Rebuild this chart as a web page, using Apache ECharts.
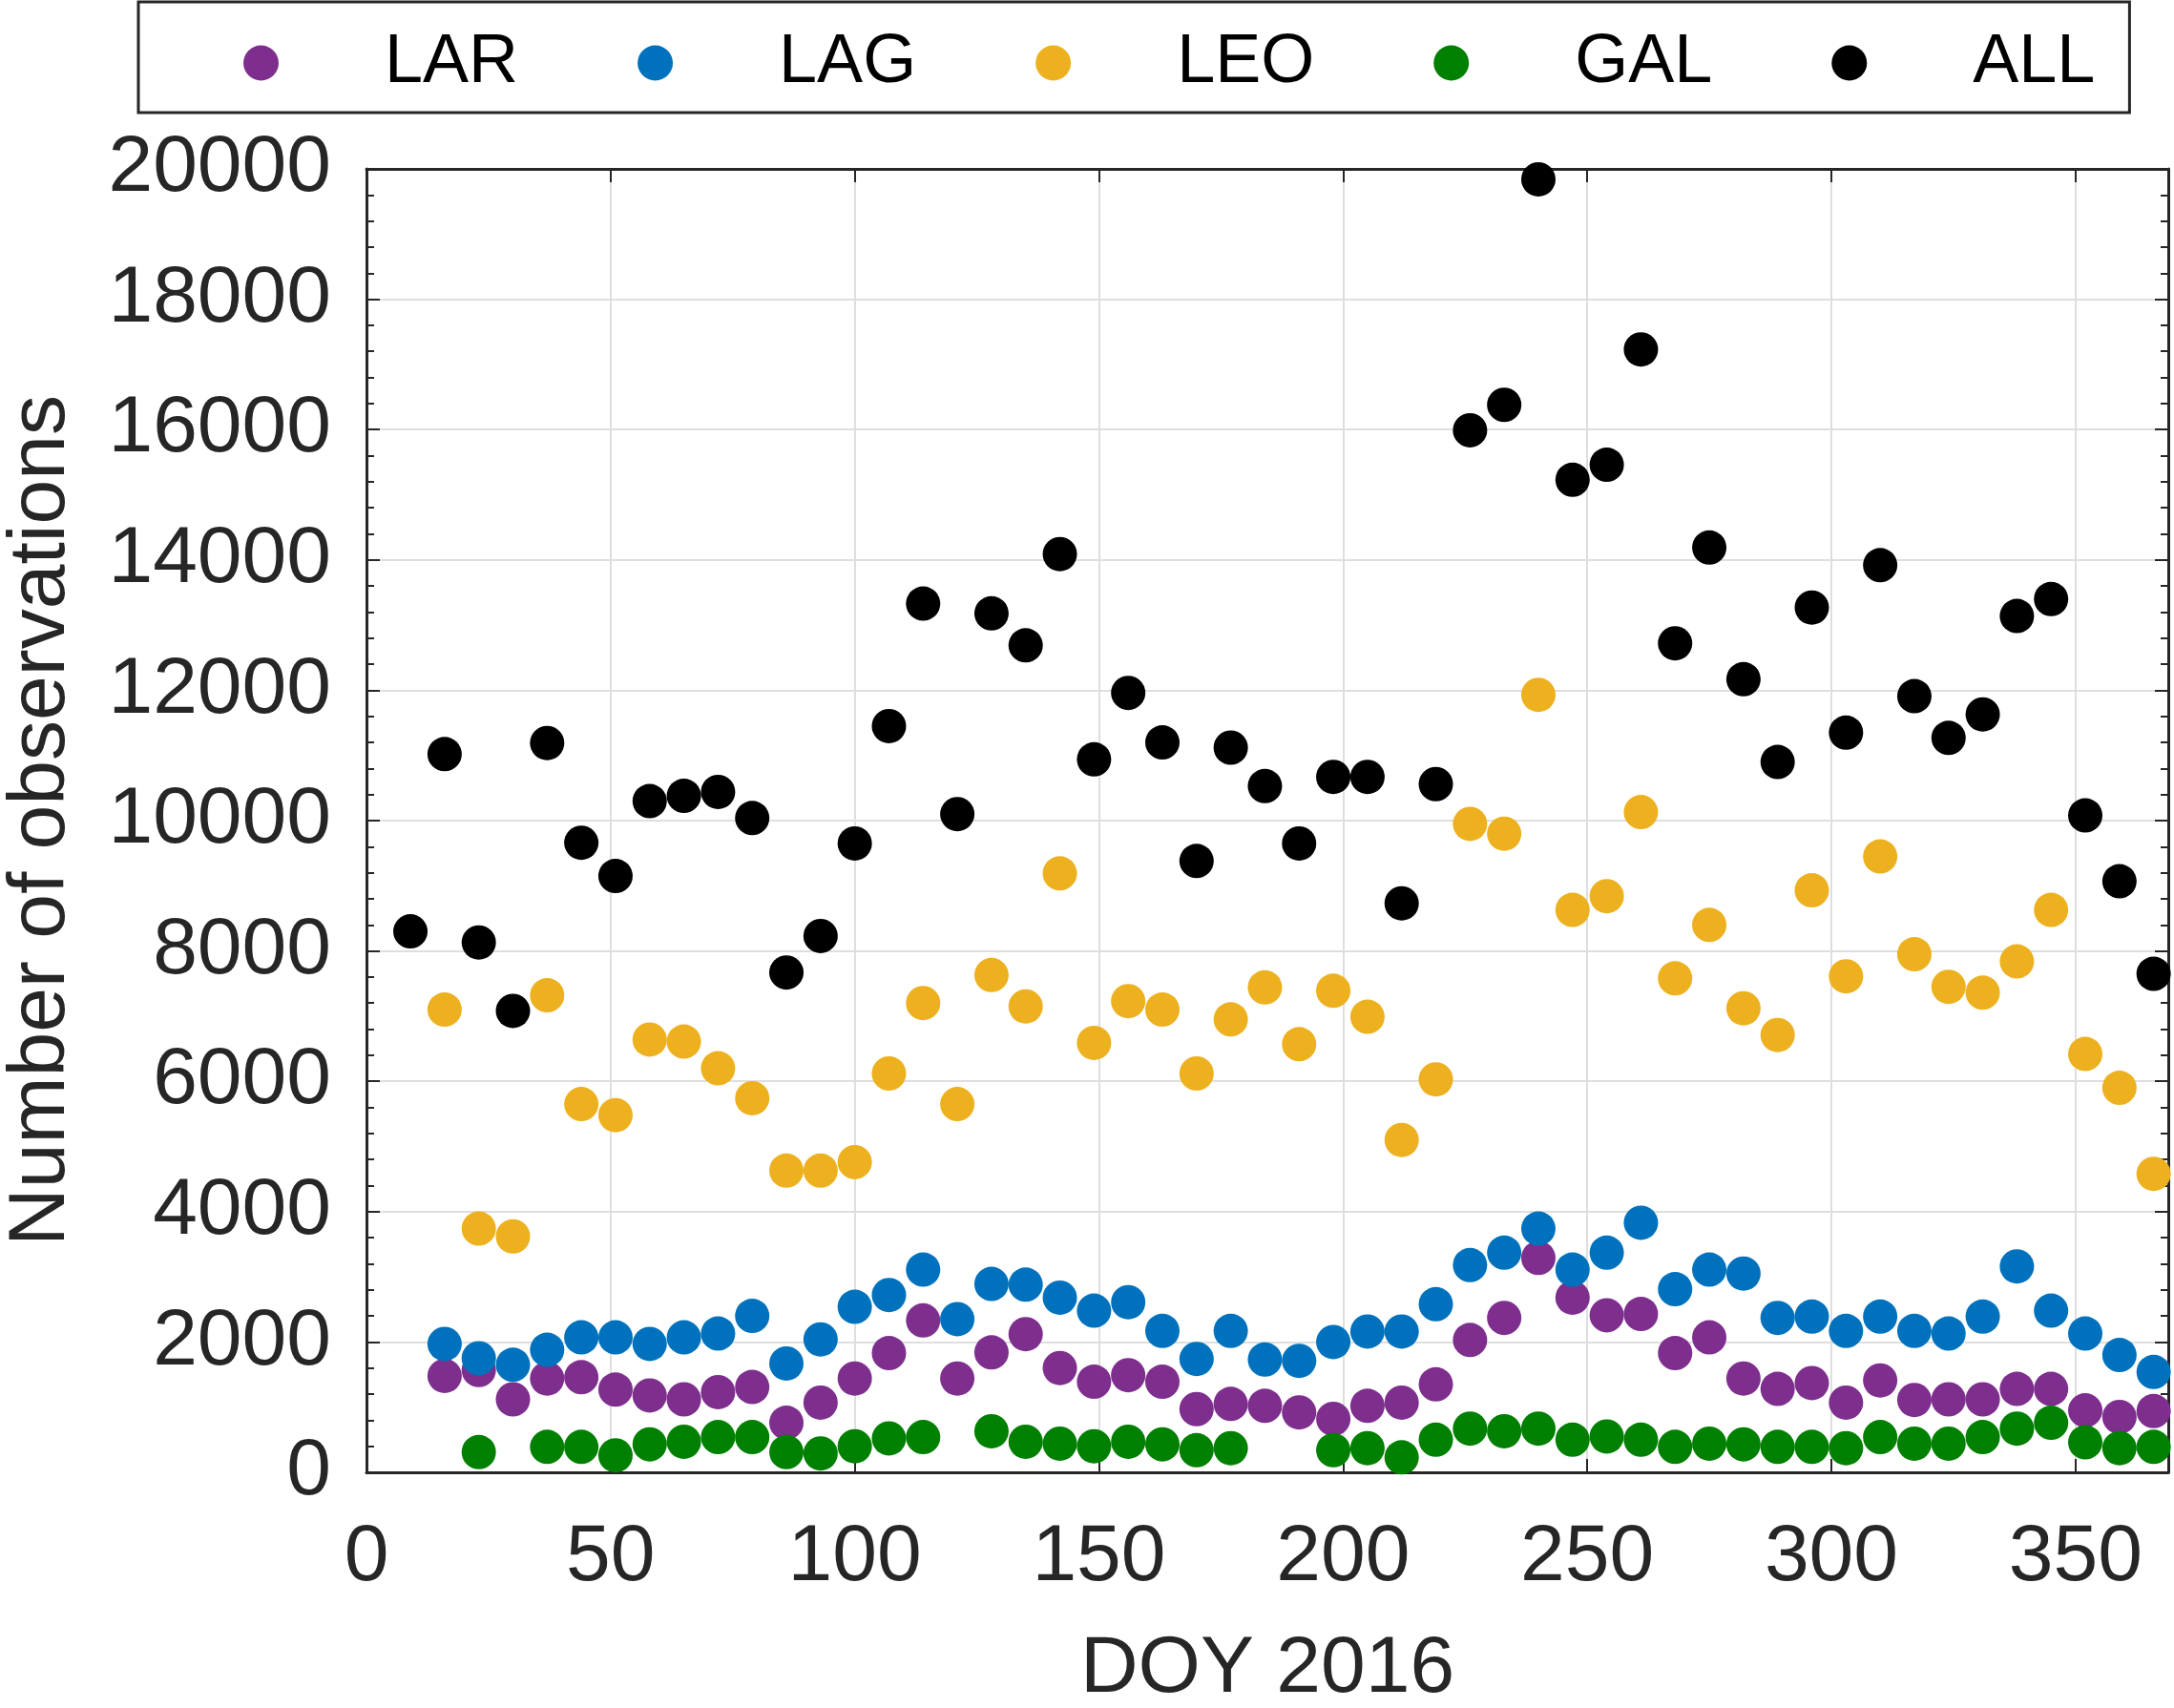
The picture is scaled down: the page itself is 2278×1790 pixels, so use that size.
<!DOCTYPE html>
<html>
<head>
<meta charset="utf-8">
<title>Number of observations, DOY 2016</title>
<script src="https://cdn.jsdelivr.net/npm/echarts@6/dist/echarts.min.js"></script>
<style>
  html, body { margin: 0; padding: 0; background: #fff; }
  #chart { width: 2278px; height: 1790px; }
</style>
</head>
<body>
<div id="chart"></div>
<script>
// day of year for each weekly sample
const days = [9, 16, 23, 30, 37, 44, 51, 58, 65, 72, 79, 86, 93, 100, 107, 114, 121, 128, 135, 142,
  149, 156, 163, 170, 177, 184, 191, 198, 205, 212, 219, 226, 233, 240, 247, 254, 261, 268, 275, 282,
  289, 296, 303, 310, 317, 324, 331, 338, 345, 352, 359, 366];

// null = no point plotted that week
const lar = [null, 1480, 1570, 1120, 1440, 1460, 1270, 1180, 1120, 1230, 1310, 760, 1070, 1440, 1830, 2330, 1440, 1840, 2120, 1600,
  1390, 1490, 1390, 970, 1050, 1020, 920, 820, 1020, 1070, 1350, 2030, 2370, 3290, 2680, 2410, 2430, 1830, 2070, 1440,
  1280, 1370, 1070, 1410, 1110, 1120, 1120, 1280, 1280, 950, 850, 940];
const lag = [null, 1970, 1750, 1650, 1880, 2070, 2070, 1970, 2070, 2130, 2400, 1670, 2040, 2540, 2720, 3110, 2350, 2890, 2880, 2680,
  2480, 2610, 2170, 1740, 2170, 1730, 1710, 2000, 2160, 2160, 2580, 3180, 3370, 3740, 3110, 3370, 3830, 2810, 3110, 3050,
  2370, 2390, 2170, 2390, 2170, 2130, 2390, 3160, 2480, 2130, 1800, 1540];
const leo = [null, 7100, 3740, 3620, 7320, 5650, 5480, 6640, 6610, 6200, 5740, 4630, 4630, 4760, 6120, 7200, 5650, 7630, 7150, 9190,
  6590, 7230, 7100, 6120, 6950, 7440, 6570, 7390, 6990, 5100, 6030, 9950, 9800, 11930, 8630, 8840, 10130, 7580, 8400, 7120,
  6710, 8930, 7610, 9450, 7950, 7450, 7360, 7840, 8630, 6420, 5900, 4580];
const gal = [null, null, 310, null, 390, 390, 260, 430, 470, 540, 540, 310, 290, 400, 520, 540, null, 630, 470, 440,
  400, 470, 430, 340, 370, null, null, 340, 370, 230, 500, 670, 630, 670, 500, 550, 500, 390, 440, 430,
  390, 390, 370, 540, 440, 440, 540, 670, 760, 460, 370, 390];
const all = [8300, 11020, 8130, 7080, 11190, 9660, 9150, 10300, 10380, 10440, 10040, 7670, 8230, 9650, 11450, 13330, 10100, 13180, 12690, 14090,
  10940, 11960, 11200, 9380, 11120, 10530, 9650, 10670, 10670, 8730, 10560, 15990, 16380, 19840, 15230, 15460, 17230, 12720, 14190, 12170,
  10900, 13270, 11350, 13920, 11910, 11270, 11630, 13140, 13400, 10080, 9070, 7650];

const names = ['LAR', 'LAG', 'LEO', 'GAL', 'ALL'];
const colors = ['#7E2F8E', '#0072BD', '#EDB120', '#008000', '#000000'];

const font = '"Liberation Sans", Arial, sans-serif';
const ink = '#262626';

function pairs(vals) {
  return days.map((d, i) => [d, vals[i]]).filter(p => p[1] !== null);
}

const chart = echarts.init(document.getElementById('chart'), null, {renderer: 'canvas'});

const frameX = {
  type: 'value', min: 0, max: 369, interval: 50,
  axisLine: {show: true, onZero: false, lineStyle: {color: ink, width: 3}},
  axisTick: {show: true, inside: true, length: 14, lineStyle: {color: ink, width: 2}}
};
const frameY = {
  type: 'value', min: 0, max: 20000, interval: 2000,
  axisLine: {show: true, onZero: false, lineStyle: {color: ink, width: 3}},
  axisTick: {show: true, inside: true, length: 14, lineStyle: {color: ink, width: 2}},
  minorTick: {show: true, splitNumber: 5, length: 8, lineStyle: {color: ink, width: 2}}
};

const option = {
  animation: false,
  backgroundColor: '#ffffff',
  grid: {left: 384, top: 177, right: 6, bottom: 247, containLabel: false, outerBoundsMode: 'none'},
  legend: {
    data: names,
    left: 145,
    top: 2,
    orient: 'horizontal',
    icon: 'circle',
    itemWidth: 37,
    itemHeight: 37,
    itemGap: 125,
    padding: [20, 36, 8, 110],
    borderColor: ink,
    borderWidth: 3,
    selectedMode: false,
    textStyle: {fontSize: 72, fontFamily: font, color: '#000', lineHeight: 72, padding: [16, 0, 0, 106]}
  },
  xAxis: [
    Object.assign({}, frameX, {
      position: 'bottom',
      name: 'DOY 2016',
      nameLocation: 'middle',
      nameGap: 165,
      nameTextStyle: {fontSize: 84, fontFamily: font, color: ink},
      axisLabel: {fontSize: 84, fontFamily: font, color: ink, margin: 48, showMaxLabel: false},
      splitLine: {show: true, lineStyle: {color: '#dedede', width: 2}}
    }),
    Object.assign({}, frameX, {
      position: 'top',
      axisLabel: {show: false},
      splitLine: {show: false}
    })
  ],
  yAxis: [
    Object.assign({}, frameY, {
      position: 'left',
      name: 'Number of observations',
      nameLocation: 'middle',
      nameGap: 298,
      nameTextStyle: {fontSize: 84, fontFamily: font, color: ink},
      axisLabel: {fontSize: 84, fontFamily: font, color: ink, margin: 37, formatter: v => String(v)},
      splitLine: {show: true, lineStyle: {color: '#dedede', width: 2}}
    }),
    Object.assign({}, frameY, {
      position: 'right',
      axisLabel: {show: false},
      splitLine: {show: false}
    })
  ],
  series: [lar, lag, leo, gal, all].map((vals, i) => ({
    name: names[i],
    type: 'scatter',
    xAxisIndex: 0,
    yAxisIndex: 0,
    symbol: 'circle',
    symbolSize: 36,
    itemStyle: {color: colors[i], opacity: 1},
    data: pairs(vals)
  }))
};

chart.setOption(option);
</script>
</body>
</html>
